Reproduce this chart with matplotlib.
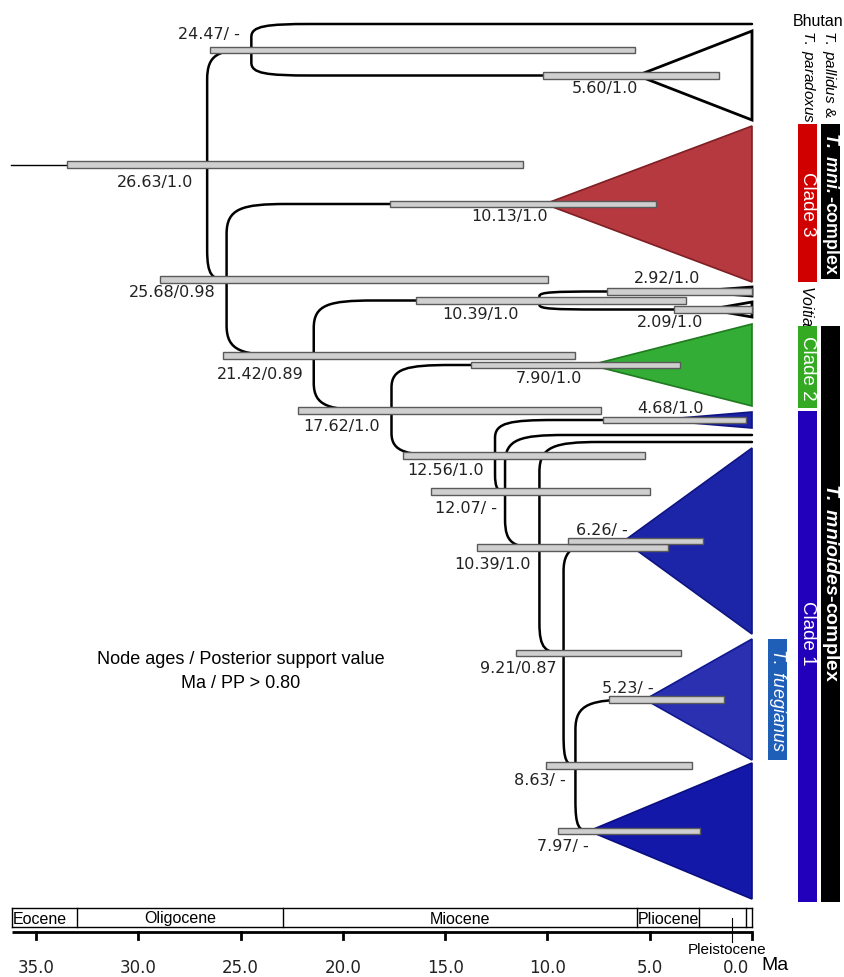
import matplotlib
matplotlib.use("Agg")
import matplotlib.pyplot as plt
from matplotlib.path import Path
from matplotlib.patches import PathPatch, Polygon, Rectangle

plt.rcParams['mathtext.fontset'] = 'custom'
plt.rcParams['mathtext.rm'] = 'Liberation Sans'
plt.rcParams['mathtext.it'] = 'Liberation Sans:italic'
plt.rcParams['mathtext.bf'] = 'Liberation Sans:bold'
plt.rcParams['mathtext.bfit'] = 'Liberation Sans:italic:bold'

# ---------------- data ----------------
node_ids = ['n1', 'n2', 'n3', 'n4', 'n5', 'n6', 'n7', 'n8', 'n9', 'n10',
            'n11', 'n12', 'n13', 'n14', 'n15', 'n16', 'n17', 'n18', 'n19', 'n20']
node_ages = [26.63, 24.47, 5.60, 25.68, 10.13, 21.42, 10.39, 2.92, 2.09, 17.62,
             7.90, 12.56, 4.68, 12.07, 10.39, 9.21, 6.26, 8.63, 5.23, 7.97]
node_support = ['1.0', ' -', '1.0', '0.98', '1.0', '0.89', '1.0', '1.0', '1.0', '1.0',
                '1.0', '1.0', '1.0', ' -', '1.0', '0.87', ' -', ' -', ' -', ' -']
hpd_old = [33.48, 26.49, 10.21, 28.93, 17.69, 25.86, 16.42, 7.09, 3.81, 22.19,
           13.73, 17.06, 7.28, 15.69, 13.44, 11.53, 8.99, 10.07, 6.99, 9.48]
hpd_young = [11.19, 5.72, 1.61, 9.97, 4.69, 8.65, 3.23, 0.0, 0.0, 7.38,
             3.52, 5.23, 0.29, 4.99, 4.11, 3.47, 2.39, 2.93, 1.37, 2.54]

children = {
    'n1': ['n2', 'n4'], 'n2': ['Bhutan', 'n3'], 'n4': ['n5', 'n6'],
    'n6': ['n7', 'n10'], 'n7': ['n8', 'n9'], 'n10': ['n11', 'n12'],
    'n12': ['n13', 'n14'], 'n14': ['tipA', 'n15'], 'n15': ['tipB', 'n16'],
    'n16': ['n17', 'n18'], 'n18': ['n19', 'n20'],
}

collapsed_nodes = ['n3', 'n5', 'n8', 'n9', 'n11', 'n13', 'n17', 'n19', 'n20']
collapsed_face = ['white', '#b5393f', 'white', 'white', '#33ad35', '#1c22a8', '#1c25a8', '#2a30b0', '#1418a8']
collapsed_edge = ['black', '#7d1f24', 'black', 'black', '#1f7a20', '#0e1480', '#0e1480', '#101890', '#0a0e80']

epoch_names = ['Eocene', 'Oligocene', 'Miocene', 'Pliocene', '', '']
epoch_bounds = [36.17, 33.0, 22.9, 5.62, 2.59, 0.29, 0.0]
tick_values = [35.0, 30.0, 25.0, 20.0, 15.0, 10.0, 5.0, 0.0]

# ---------------- layout ----------------
PX0, PXMA = 752.0, 20.46          # pixel of age 0, pixels per Ma
W, H = 844, 978


def a(px):
    return (PX0 - px) / PXMA


tip_y = {'Bhutan': 25, 'tipA': 436, 'tipB': 443}
collapsed_span = {'n3': (32, 121), 'n5': (127, 283), 'n8': (288, 297), 'n9': (303, 318),
                  'n11': (325, 407), 'n13': (413, 429), 'n17': (449, 635),
                  'n19': (640, 761), 'n20': (764, 900)}
label_px = {'n1': (155, 182), 'n2': (209, 35), 'n3': (605, 89), 'n4': (172, 293),
            'n5': (510, 217), 'n6': (260, 374), 'n7': (480, 314), 'n8': (667, 278),
            'n9': (670, 322), 'n10': (342, 427), 'n11': (549, 379), 'n12': (446, 470),
            'n13': (670, 408), 'n14': (466, 508), 'n15': (493, 565), 'n16': (518, 668),
            'n17': (602, 530), 'n18': (540, 780), 'n19': (628, 688), 'n20': (563, 847)}

age_of = dict(zip(node_ids, node_ages))
age_of.update({k: 0.0 for k in tip_y})

ypos = {}


def get_y(n):
    if n in ypos:
        return ypos[n]
    if n in tip_y:
        y = tip_y[n]
    elif n in collapsed_span:
        y = sum(collapsed_span[n]) / 2.0
    else:
        y = sum(get_y(c) for c in children[n]) / 2.0
    ypos[n] = y
    return y


get_y('n1')

fig = plt.figure(figsize=(W / 100, H / 100), dpi=100)
ax = fig.add_axes([0, 0, 1, 1])
ax.set_xlim(a(0), a(W))
ax.set_ylim(H, 0)
ax.axis('off')

LW = 1.8


def branch(xp, yp, xc, yc):
    dy = abs(yc - yp)
    s = 1 if yc > yp else -1
    ry = min(0.5 * dy, 30)
    rx = min(60 / PXMA, xp - xc)
    verts = [(xp, yp), (xp, yc - s * ry), (xp, yc - s * ry * 0.15),
             (xp - rx * 0.25, yc), (xp - rx, yc), (xc, yc)]
    codes = [Path.MOVETO, Path.LINETO, Path.CURVE4, Path.CURVE4, Path.CURVE4, Path.LINETO]
    ax.add_patch(PathPatch(Path(verts, codes), fill=False, lw=LW, ec='black',
                           capstyle='round', joinstyle='round', zorder=2))


# root stem
ax.plot([a(11), age_of['n1']], [ypos['n1'], ypos['n1']], color='black', lw=1.0, zorder=1)

for p, ch in children.items():
    for c in ch:
        branch(age_of[p], ypos[p], age_of[c], ypos[c])

# collapsed clades
for n, fc, ec in zip(collapsed_nodes, collapsed_face, collapsed_edge):
    y0, y1 = collapsed_span[n]
    poly = Polygon([(age_of[n], ypos[n]), (0.0, y0), (0.0, y1)], closed=True,
                   fc=fc, ec=ec, lw=2.0 if fc == 'white' else 1.2, joinstyle='miter', zorder=3)
    ax.add_patch(poly)

# HPD bars
BH = 6.5
for n, o, yg in zip(node_ids, hpd_old, hpd_young):
    ax.add_patch(Rectangle((o, ypos[n] - BH / 2), yg - o, BH, fc='#cfcfcf', ec='#5a5a5a',
                           lw=1.0, zorder=4))

# node labels
for n, ag, sp in zip(node_ids, node_ages, node_support):
    lx, ly = label_px[n]
    ax.text(a(lx), ly, f"{ag:.2f}/{sp}", ha='center', va='center', fontsize=11.5,
            family='DejaVu Sans', color='#222222', zorder=6)

# legend text
ax.text(a(241), 660, 'Node ages / Posterior support value', ha='center', va='center',
        fontsize=13, family='Liberation Sans')
ax.text(a(241), 684, 'Ma / PP > 0.80', ha='center', va='center', fontsize=13,
        family='Liberation Sans')

# ---------------- right-side annotations ----------------
def rbar(x0, x1, y0, y1, color):
    ax.add_patch(Rectangle((a(x0), y0), a(x1) - a(x0), y1 - y0, fc=color, ec='none', zorder=3))


rkw = dict(rotation=-90, rotation_mode='anchor', family='Liberation Sans', zorder=6)
ax.text(a(818), 22, 'Bhutan', ha='center', va='center', fontsize=11.5, family='Liberation Sans')
ax.text(a(829), 30, r'$\mathit{T.\ pallidus}$ &', ha='left', va='center', fontsize=11, **rkw)
ax.text(a(808), 30, r'$\mathit{T.\ paradoxus}$', ha='left', va='center', fontsize=11, **rkw)

rbar(798, 817, 125, 283, '#d00000')
ax.text(a(807.5), 204, 'Clade 3', ha='center', va='center', color='white', fontsize=13.5, **rkw)
rbar(821, 840, 125, 280, 'black')
ax.text(a(830.5), 203, r'$\mathbfit{T.\ mni.}$-complex', ha='center', va='center',
        color='white', fontsize=12.8, fontweight='bold', **rkw)

ax.text(a(807), 285, r'$\mathit{Voitia}$', ha='left', va='center', fontsize=11.5, **rkw)

rbar(798, 817, 327, 409, '#33aa22')
ax.text(a(807.5), 368, 'Clade 2', ha='center', va='center', color='white', fontsize=13.5, **rkw)
rbar(798, 817, 412, 903, '#2200bb')
ax.text(a(807.5), 633, 'Clade 1', ha='center', va='center', color='white', fontsize=13.5, **rkw)
rbar(821, 840, 327, 903, 'black')
ax.text(a(830.5), 583, r'$\mathbfit{T.\ mnioides}$-complex', ha='center', va='center',
        color='white', fontsize=14, fontweight='bold', **rkw)
rbar(768, 787, 640, 761, '#1f5fb8')
ax.text(a(777.5), 700, r'$\mathit{T.\ fuegianus}$', ha='center', va='center', color='white',
        fontsize=13, **rkw)

# ---------------- time axis ----------------
BOX_T, BOX_B, AX_Y = 909, 928, 933
ax.plot([epoch_bounds[0], 0.0], [BOX_T, BOX_T], color='black', lw=1.0)
ax.plot([epoch_bounds[0], 0.0], [BOX_B, BOX_B], color='black', lw=1.0)
for b in epoch_bounds:
    ax.plot([b, b], [BOX_T, BOX_B], color='black', lw=1.0)
ax.plot([epoch_bounds[0], 0.0], [AX_Y, AX_Y], color='black', lw=2.0, solid_capstyle='butt')
for t in tick_values:
    ax.plot([t, t], [AX_Y, AX_Y + 7], color='black', lw=2.0)
    if t == 0.0:
        ax.text(a(749), 968, f"{t:.1f}", ha='right', va='center', fontsize=12,
                family='DejaVu Sans', color='#222222')
    else:
        ax.text(t, 968, f"{t:.1f}", ha='center', va='center', fontsize=12,
                family='DejaVu Sans', color='#222222')
ax.text(a(761), 966, 'Ma', ha='left', va='center', fontsize=14, family='Liberation Sans')

for i, nm in enumerate(epoch_names):
    if not nm:
        continue
    lo, hi = epoch_bounds[i], epoch_bounds[i + 1]
    if i == 0:
        ax.text(lo - 0.05, 919, nm, ha='left', va='center', fontsize=11.5, family='Liberation Sans')
    else:
        ax.text((lo + hi) / 2, 919, nm, ha='center', va='center', fontsize=11.5,
                family='Liberation Sans')
ax.plot([1.0, 1.0], [919, 943], color='black', lw=0.8)
ax.text(a(727), 950, 'Pleistocene', ha='center', va='center', fontsize=11,
        family='Liberation Sans')

fig.savefig('out.png', dpi=100)
